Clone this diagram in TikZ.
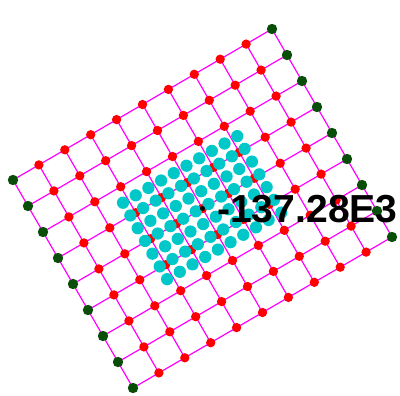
\documentclass[tikz,border=0pt]{standalone}
\usepackage{fontspec}
\setmainfont{Liberation Sans}
\definecolor{gridmag}{RGB}{255,0,255}
\definecolor{nodered}{RGB}{255,0,0}
\definecolor{nodegreen}{RGB}{8,78,8}
\definecolor{dotcyan}{RGB}{0,200,200}
\begin{document}
\begin{tikzpicture}[x=0.75pt,y=-0.75pt,
  gridline/.style={draw=gridmag, line width=0.9pt},
  reddot/.style={circle, fill=nodered, inner sep=0pt, minimum size=7pt},
  greendot/.style={circle, fill=nodegreen, inner sep=0pt, minimum size=7.8pt},
  cyandot/.style={circle, fill=dotcyan, inner sep=0pt, minimum size=9.2pt},
  blackdot/.style={circle, fill=black, inner sep=0pt, minimum size=3.8pt},
  valuelabel/.style={anchor=base west, inner sep=0pt, font=\bfseries\fontsize{29.3}{30}\selectfont}]
\useasboundingbox (0,0) rectangle (400,396);
% grid points
\foreach \i in {0,...,10}{
  \foreach \j in {0,...,8}{
    \coordinate (c-\i-\j) at ({13+25.9*\i+15*\j},{180-15.1*\i+26*\j});
  }
}
% grid lines along u
\foreach \i in {0,...,9}{
  \foreach \j in {0,...,8}{
    \pgfmathtruncatemacro\ii{\i+1}
    \draw[gridline] (c-\i-\j) -- (c-\ii-\j);
  }
}
% grid lines along v
\foreach \i in {0,...,10}{
  \foreach \j in {0,...,7}{
    \pgfmathtruncatemacro\jj{\j+1}
    \draw[gridline] (c-\i-\j) -- (c-\i-\jj);
  }
}
% nodes
\foreach \i in {0,...,10}{
  \foreach \j in {0,...,8}{
    \ifnum\i=0
      \node[greendot] (n-\i-\j) at (c-\i-\j) {};
    \else\ifnum\i=10
      \node[greendot] (n-\i-\j) at (c-\i-\j) {};
    \else
      \node[reddot] (n-\i-\j) at (c-\i-\j) {};
    \fi\fi
  }
}
% refined cyan points
\foreach \a in {0,...,9}{
  \foreach \b in {0,...,6}{
    \pgfmathsetmacro\pi{2.8+0.49*\a}
    \pgfmathsetmacro\pj{2.5+0.49*\b}
    \node[cyandot] (cy-\a-\b) at ({13+25.9*\pi+15*\pj},{180-15.1*\pi+26*\pj}) {};
  }
}
% marker and value
\node[blackdot] (mark) at (c-5-4) {};
\node[valuelabel] (val) at (217,222) {-137.28E3};
\end{tikzpicture}
\end{document}
